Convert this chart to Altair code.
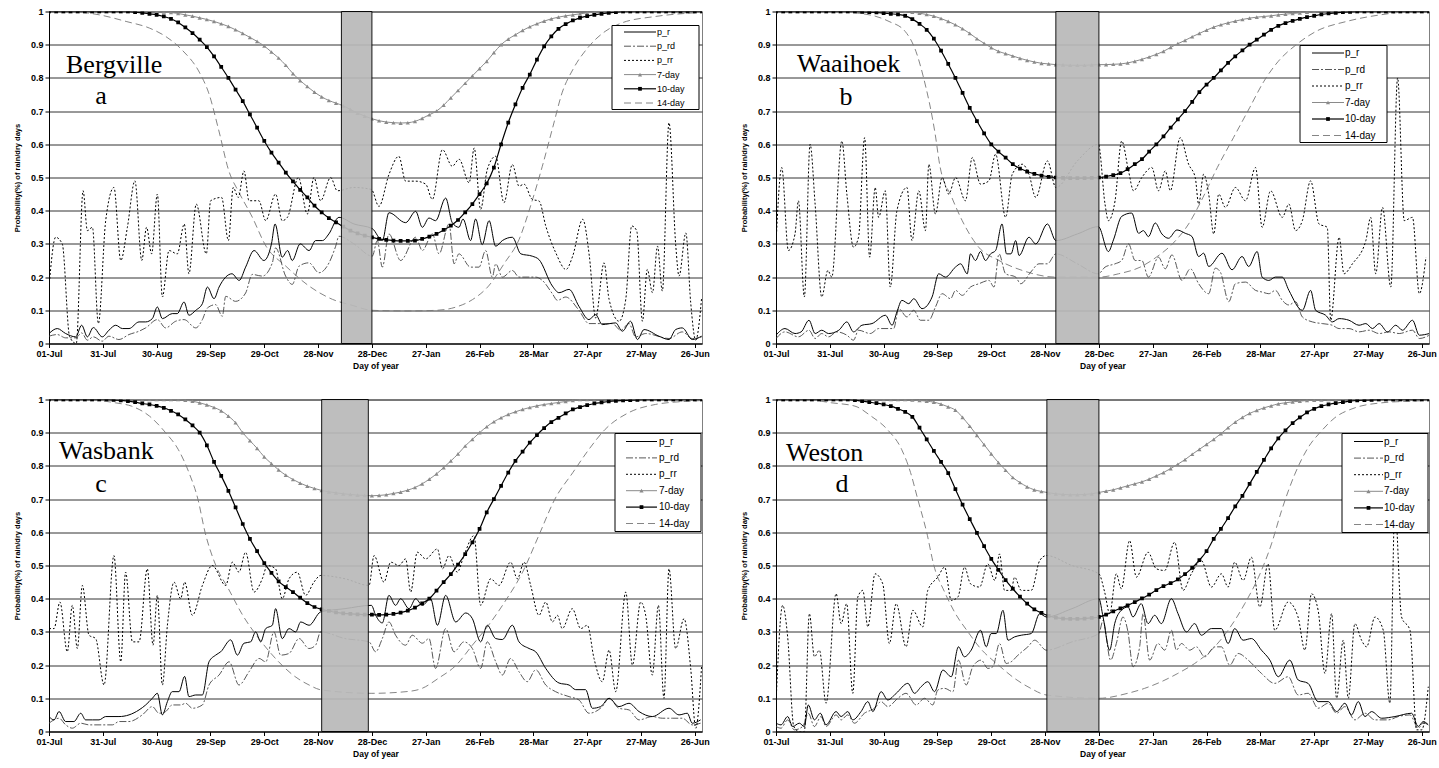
import altair as alt
import pandas as pd

# ---------------------------------------------------------------- axes
TICK_LABELS = ["01-Jul", "31-Jul", "30-Aug", "29-Sep", "29-Oct", "28-Nov", "28-Dec",
               "27-Jan", "26-Feb", "28-Mar", "27-Apr", "27-May", "26-Jun"]
TICK_DAYS = [0, 30, 60, 90, 120, 150, 180, 210, 240, 270, 300, 330, 360]
Y_TICKS = [0, 0.1, 0.2, 0.3, 0.4, 0.5, 0.6, 0.7, 0.8, 0.9, 1.0]
SMOOTH_STEP = 4          # day spacing of the 7-day / 10-day curves
X_MAX = 364
PLOT_W, PLOT_H = 653, 332

# ---------------------------------------------------------------- Bergville
bergville_pr = [(0,0.03),(4.6,0.045),(9.3,0.03),(14.9,0.02),(18.2,0.055),(21.4,0.02),(24.7,0.048),(29.7,0.02),(33.4,0.04),(37.2,0.055),(40.9,0.045),(44.6,0.045),(50.2,0.065),(53.9,0.065),(57.6,0.075),(60.4,0.11),(63.2,0.075),(68.7,0.09),(71.5,0.09),(75.3,0.125),(78,0.085),(81.8,0.1),(85.5,0.12),(88.3,0.17),(92,0.135),(94.8,0.17),(102,0.21),(106,0.19),(109.6,0.23),(114.3,0.28),(119.8,0.25),(124,0.3),(126,0.36),(130,0.26),(133,0.28),(135.6,0.25),(140,0.3),(145,0.28),(148.6,0.31),(152.4,0.31),(156,0.33),(161.6,0.38),(170,0.36),(180.2,0.346),(185.8,0.31),(189.5,0.394),(198.8,0.364),(204.4,0.398),(208.1,0.35),(211.8,0.378),(215.5,0.37),(221.1,0.438),(224.8,0.364),(228.5,0.35),(230.8,0.375),(235,0.31),(237.8,0.375),(241.5,0.298),(245.3,0.37),(249,0.293),(252.7,0.31),(258.3,0.32),(263,0.27),(269.4,0.263),(273.1,0.253),(280.6,0.173),(284.3,0.153),(289.9,0.163),(295.4,0.112),(301,0.072),(304.7,0.087),(308.4,0.057),(315.9,0.062),(319.6,0.037),(324.2,0.067),(328,0.012),(331.7,0.042),(340,0.022),(345.6,0.012),(349.3,0.042),(353,0.047),(358.6,0.012),(363.8,0.022)]
bergville_prd = [(0,0.022),(4.6,0.027),(9.3,0.017),(14.9,0.017),(18.2,0.032),(21.4,0.01),(24.7,0.02),(29.7,0.007),(33.4,0.022),(39,0.012),(44.6,0.027),(50.2,0.037),(53.9,0.047),(60.4,0.072),(65,0.047),(70.6,0.067),(75.3,0.072),(81.8,0.047),(85.5,0.072),(88.3,0.107),(92.9,0.117),(96.6,0.082),(98.5,0.142),(104,0.127),(109.6,0.152),(113.3,0.208),(118.9,0.203),(124.5,0.243),(126.3,0.288),(131.9,0.203),(135.6,0.178),(139.4,0.233),(144.9,0.243),(150.5,0.213),(156.1,0.243),(159.8,0.293),(161.6,0.323),(170,0.3),(180.2,0.263),(183,0.31),(185.8,0.23),(189.5,0.33),(196,0.25),(204.4,0.32),(208.1,0.28),(213.7,0.33),(217.4,0.27),(223,0.36),(225.8,0.24),(228.5,0.27),(235,0.23),(239.7,0.23),(243.4,0.28),(247.1,0.2),(249,0.24),(252.7,0.2),(258.3,0.22),(262,0.2),(271.3,0.2),(275,0.19),(280.6,0.15),(283.4,0.13),(288,0.14),(295.4,0.1),(301,0.06),(306.6,0.06),(314,0.06),(318.7,0.04),(323.3,0.06),(327,0.02),(332.6,0.03),(345.6,0.015),(353,0.035),(358.6,0.015),(363.8,0.02)]
bergville_prr = [(0,0.17),(3.7,0.32),(7.4,0.3),(11.5,0.02),(15.2,0.0),(19,0.46),(21.4,0.34),(24.2,0.35),(27.5,0.06),(31.6,0.37),(36.2,0.47),(40,0.25),(43.7,0.35),(47.9,0.49),(51.7,0.25),(54.4,0.35),(57.2,0.27),(60.4,0.45),(63.2,0.14),(66.9,0.28),(71.5,0.27),(75.4,0.36),(78,0.21),(82.1,0.42),(87.7,0.27),(90.1,0.43),(96.2,0.44),(100,0.31),(102.7,0.47),(105.5,0.44),(108.7,0.52),(111.5,0.43),(117,0.43),(120.8,0.37),(126.3,0.45),(130,0.37),(132.9,0.38),(139,0.5),(144,0.39),(147.7,0.5),(151.4,0.43),(157,0.5),(160.7,0.46),(170,0.47),(179.7,0.464),(183.9,0.413),(189.5,0.509),(195,0.564),(198.8,0.489),(204.4,0.489),(210,0.48),(213.7,0.434),(219.3,0.584),(224.8,0.534),(228.6,0.555),(234.2,0.484),(237,0.589),(240.6,0.404),(244.3,0.524),(249,0.564),(253.6,0.424),(258.3,0.539),(262,0.474),(264.8,0.48),(269.4,0.434),(273.2,0.429),(276.9,0.354),(282.5,0.273),(288.2,0.223),(291.9,0.263),(297.5,0.374),(301.2,0.263),(304.7,0.077),(309.4,0.243),(312.2,0.133),(317.8,0.067),(321.5,0.133),(324.8,0.354),(327.6,0.34),(330.8,0.067),(333.5,0.223),(336.4,0.153),(339.2,0.293),(341.9,0.158),(345.6,0.665),(349.4,0.293),(351.2,0.203),(355,0.333),(357.7,0.123),(360.5,0.01),(363.8,0.138)]
bergville_d7 = [1,1,1,1,1,1,1,1,1,1,1,1,1,1,1,1,
    0.999,0.997,0.994,0.99,0.986,0.981,0.976,0.97,0.963,0.955,0.945,0.934,0.922,0.91,0.896,0.878,0.86,0.838,0.813,0.792,0.774,0.757,0.743,0.732,0.724,0.716,0.705,0.694,0.685,0.677,
    0.671,0.667,0.665,0.664,0.665,0.669,0.678,0.689,0.7,0.718,0.74,0.762,0.784,0.806,0.828,0.85,0.876,0.9,0.917,0.93,0.943,0.954,0.963,0.971,0.978,0.983,0.987,0.99,0.993,0.996,0.998,
    1,1,1,1,1,1,1,1,1,1,1,1,1,1,1]
bergville_d10 = [1,1,1,1,1,1,1,1,1,1,1,1,
    0.998,0.996,0.993,0.99,0.985,0.978,0.967,0.952,0.935,0.915,0.893,0.865,0.833,0.8,0.765,0.73,0.69,0.65,0.61,0.575,0.545,0.515,0.488,0.463,0.44,0.415,0.395,0.378,0.365,0.352,0.34,0.332,0.325,0.32,
    0.315,0.312,0.31,0.309,0.309,0.31,0.315,0.322,0.33,0.342,0.355,0.372,0.395,0.42,0.45,0.482,0.53,0.6,0.665,0.72,0.77,0.81,0.855,0.895,0.925,0.948,0.962,0.973,0.981,0.986,0.99,0.993,0.996,0.998,
    1,1,1,1,1,1,1,1,1,1,1,1]
bergville_d14 = [(0,1),(10,1),(28,0.99),(43,0.97),(56,0.95),(65,0.925),(74,0.885),(84,0.815),(89,0.755),(95,0.634),(100,0.524),(106,0.454),(113,0.384),(121,0.293),(132,0.233),(145,0.173),(158,0.133),(169,0.115),(180,0.1),(200,0.098),(216,0.1),(227,0.11),(236,0.132),(245,0.173),(254,0.243),(262,0.313),(269,0.424),(275,0.534),(281,0.655),(286,0.755),(292,0.825),(301,0.895),(310,0.94),(319,0.965),(338,0.985),(357,0.995),(364,0.997)]
bergville_dry = (163, 180)

# ---------------------------------------------------------------- Waaihoek
waaihoek_pr = [(0,0.025),(5,0.045),(10.6,0.03),(14,0.035),(18.4,0.07),(21.8,0.03),(25.5,0.04),(29.3,0.03),(35,0.04),(39.5,0.065),(43.2,0.035),(47.9,0.055),(53.5,0.06),(61,0.085),(64.7,0.055),(67.4,0.095),(70.2,0.13),(74,0.12),(76.8,0.135),(81.4,0.105),(87,0.14),(90.7,0.21),(94.5,0.2),(100,0.23),(102.9,0.24),(106.6,0.21),(108.4,0.27),(111.2,0.25),(114,0.277),(116.8,0.25),(119.6,0.27),(122.4,0.28),(126,0.36),(128.5,0.27),(131,0.27),(133.6,0.31),(135.5,0.265),(141,0.32),(144.8,0.3),(151.3,0.36),(156,0.31),(168,0.33),(179.7,0.352),(185.3,0.277),(188.1,0.312),(192.7,0.383),(198.3,0.393),(202.1,0.332),(204.8,0.34),(207.6,0.322),(211.4,0.363),(215.1,0.33),(218.8,0.317),(223.5,0.342),(228.1,0.332),(231.9,0.322),(235.6,0.262),(238.4,0.272),(241.2,0.232),(248.6,0.272),(254.2,0.222),(259.8,0.262),(263.5,0.232),(268.2,0.277),(271,0.2),(274.7,0.19),(278.4,0.2),(282.2,0.2),(285.9,0.16),(293.4,0.1),(298,0.16),(300.8,0.1),(306.4,0.085),(310.1,0.065),(313.9,0.075),(319.4,0.07),(325,0.055),(328.8,0.06),(332.5,0.045),(336.2,0.06),(340.9,0.035),(345.5,0.055),(349.2,0.04),(354.8,0.07),(358.6,0.025),(364.2,0.03)]
waaihoek_prd = [(0,0.015),(5,0.035),(12.5,0.02),(18.4,0.04),(21.8,0.015),(25.5,0.03),(29.3,0.02),(33.9,0.035),(39.5,0.025),(43.2,0.01),(46,0.04),(52.5,0.03),(57.2,0.045),(62.8,0.045),(65.6,0.045),(68.4,0.105),(73,0.08),(76.8,0.1),(80.5,0.07),(85.2,0.07),(88.9,0.11),(92.6,0.15),(97.3,0.135),(100.1,0.16),(103.8,0.145),(108.4,0.17),(113.1,0.18),(118.7,0.19),(121.5,0.17),(124.3,0.27),(128,0.21),(133.6,0.2),(136.4,0.18),(142,0.215),(146.6,0.24),(151.3,0.24),(156,0.27),(168,0.24),(179.7,0.21),(183.4,0.23),(189,0.24),(192.7,0.25),(196.5,0.3),(200.2,0.25),(203.9,0.25),(207.6,0.2),(213.2,0.26),(217,0.225),(220.7,0.267),(226.3,0.19),(231,0.225),(235.6,0.18),(241.2,0.15),(244.9,0.227),(247.7,0.215),(252.4,0.126),(256.1,0.18),(261.7,0.185),(267.3,0.16),(271,0.155),(274.7,0.15),(278.4,0.16),(282.2,0.13),(285.9,0.116),(289.6,0.126),(293.4,0.08),(299,0.065),(304.5,0.06),(310.1,0.055),(313.9,0.045),(319.4,0.045),(325,0.035),(330.6,0.04),(336.2,0.03),(341.8,0.035),(347.4,0.03),(354.8,0.04),(358.6,0.015),(364.2,0.025)]
waaihoek_prr = [(0,0.3),(3.2,0.53),(6.9,0.28),(10.6,0.33),(12.5,0.43),(15.8,0.14),(19,0.6),(21.8,0.42),(25.5,0.14),(28.9,0.22),(31.1,0.2),(36.7,0.61),(39.5,0.45),(43.2,0.29),(46,0.32),(49.4,0.62),(52.2,0.26),(55.3,0.47),(57.2,0.38),(60.9,0.46),(63.7,0.17),(67.4,0.4),(73,0.47),(75.8,0.31),(79.6,0.46),(83.3,0.34),(85.2,0.54),(88.9,0.39),(92.6,0.5),(96.3,0.45),(100.1,0.5),(105.6,0.43),(109.4,0.56),(114,0.48),(118.7,0.49),(122.4,0.57),(128,0.38),(131.7,0.51),(137.3,0.54),(141,0.51),(144.8,0.44),(151.3,0.55),(156,0.47),(168,0.55),(179.7,0.6),(183.4,0.42),(185.3,0.37),(189,0.43),(192.7,0.61),(196.5,0.52),(199.3,0.46),(203.9,0.5),(209.5,0.53),(213.2,0.46),(217,0.52),(219.8,0.46),(225.3,0.62),(230,0.54),(233.7,0.5),(235.6,0.42),(238.4,0.51),(241.2,0.45),(244,0.33),(246.8,0.45),(250.5,0.41),(256.1,0.47),(261.7,0.43),(267.3,0.53),(271,0.35),(275.7,0.46),(282.2,0.38),(285.9,0.42),(289.6,0.34),(293.4,0.37),(298,0.49),(302.7,0.36),(307.3,0.35),(309.2,0.07),(313.9,0.32),(316.6,0.21),(321.3,0.24),(328.8,0.31),(331.5,0.38),(334.3,0.21),(338.1,0.41),(342.7,0.17),(346.5,0.8),(350.2,0.37),(354.8,0.38),(358.6,0.15),(362.3,0.26)]
waaihoek_d7 = [1,1,1,1,1,1,1,1,1,1,1,1,1,1,1,1,1,1,1,
    0.998,0.995,0.991,0.986,0.979,0.97,0.96,0.948,0.934,0.918,0.904,0.891,0.88,0.873,0.866,0.859,0.853,0.848,0.844,0.842,0.84,0.839,0.838,0.838,0.838,0.839,0.84,
    0.84,0.841,0.842,0.845,0.85,0.856,0.863,0.871,0.88,0.892,0.903,0.913,0.924,0.934,0.944,0.953,0.96,0.966,0.971,0.976,0.98,0.983,0.985,0.987,0.99,0.992,0.994,0.996,0.998,
    1,1,1,1,1,1,1,1,1,1,1,1,1,1,1,1,1]
waaihoek_d10 = [1,1,1,1,1,1,1,1,1,1,1,1,
    0.999,0.998,0.997,0.995,0.993,0.991,0.987,0.977,0.963,0.945,0.918,0.882,0.842,0.8,0.755,0.71,0.67,0.633,0.6,0.578,0.56,0.54,0.527,0.518,0.511,0.506,0.502,0.5,0.499,0.498,0.498,0.498,0.499,0.5,
    0.503,0.507,0.513,0.525,0.54,0.555,0.578,0.6,0.624,0.65,0.675,0.7,0.728,0.757,0.78,0.8,0.823,0.845,0.865,0.883,0.9,0.915,0.93,0.945,0.957,0.965,0.972,0.978,0.983,0.987,0.991,0.994,0.996,0.998,
    0.999,1,1,1,1,1,1,1,1,1,1,1]
waaihoek_d14 = [(0,1),(31,1),(52,0.99),(63,0.97),(72,0.94),(78,0.88),(82,0.806),(88.6,0.635),(91.4,0.534),(98,0.44),(103.8,0.37),(113,0.29),(124.3,0.25),(137.3,0.22),(156,0.2),(180,0.2),(191,0.21),(203,0.23),(212,0.26),(221,0.3),(230,0.36),(238,0.44),(246,0.53),(255,0.62),(264,0.71),(272,0.79),(280,0.85),(290,0.9),(301,0.94),(318,0.97),(337,0.99),(355,1),(364,1)]
waaihoek_dry = (156, 180)

# ---------------------------------------------------------------- Wasbank
wasbank_pr = [(0,0.045),(2.8,0.035),(5.6,0.06),(9.3,0.03),(13.9,0.03),(17.7,0.055),(20.4,0.035),(24.2,0.035),(27.9,0.035),(31.6,0.045),(39,0.045),(44.6,0.05),(50.2,0.065),(53.9,0.08),(57.6,0.1),(60.4,0.115),(63.2,0.05),(66,0.09),(68.7,0.12),(72.5,0.12),(75.6,0.166),(78,0.105),(81.8,0.11),(85.5,0.11),(89.2,0.21),(92.9,0.23),(95.7,0.24),(101.3,0.276),(105,0.23),(108.7,0.266),(112.4,0.27),(115.2,0.3),(118,0.27),(120.8,0.31),(124.5,0.32),(126.3,0.37),(130,0.28),(133.8,0.31),(137.5,0.3),(140.3,0.33),(145,0.32),(151.4,0.36),(165,0.37),(179.7,0.38),(182.1,0.35),(185.8,0.327),(189.5,0.41),(193.2,0.38),(196,0.4),(200.7,0.37),(204.4,0.4),(208.1,0.38),(212.7,0.4),(216.5,0.32),(221.1,0.41),(226.7,0.33),(232.3,0.357),(236,0.34),(240.6,0.27),(244.3,0.32),(249,0.28),(252.7,0.277),(258.3,0.32),(262,0.27),(267.6,0.25),(271.3,0.24),(276.9,0.19),(284.3,0.146),(289.9,0.14),(293.6,0.126),(299.1,0.126),(302.9,0.07),(307.5,0.075),(312.2,0.1),(317.7,0.075),(323.3,0.085),(328.9,0.06),(336.3,0.045),(345.6,0.07),(351.2,0.05),(355.8,0.055),(358.6,0.025),(363.2,0.035)]
wasbank_prd = [(0,0.025),(5.6,0.04),(9.3,0.02),(13,0.01),(17.7,0.025),(22.3,0.02),(27.9,0.02),(35.3,0.02),(39,0.03),(44.6,0.03),(52,0.05),(57.6,0.075),(61.3,0.055),(65,0.06),(68.7,0.08),(73.4,0.08),(76.2,0.085),(79.9,0.07),(85.5,0.08),(89.2,0.14),(94.8,0.17),(100.4,0.21),(105.9,0.14),(111.5,0.18),(117.1,0.22),(120.8,0.21),(125.4,0.3),(129.1,0.23),(133.8,0.235),(139.4,0.28),(144.9,0.25),(148.6,0.26),(151.4,0.3),(165,0.28),(178.4,0.27),(182.1,0.24),(185.8,0.28),(189.5,0.33),(193.2,0.29),(198.8,0.26),(202.5,0.29),(208.1,0.266),(211.8,0.28),(215.5,0.19),(221.1,0.31),(225.8,0.24),(231.3,0.27),(236,0.25),(240.6,0.19),(244.3,0.27),(249,0.21),(252.7,0.17),(257.3,0.22),(262,0.18),(266.6,0.15),(271.3,0.186),(276.9,0.14),(282.4,0.12),(289.9,0.105),(295.4,0.095),(301,0.055),(308.4,0.075),(312.2,0.1),(317.7,0.07),(323.3,0.065),(328.9,0.035),(336.3,0.045),(341.9,0.04),(347.5,0.04),(353,0.04),(358.6,0.02),(363.2,0.025)]
wasbank_prr = [(0,0.31),(2.8,0.31),(6.1,0.39),(10.2,0.24),(13,0.38),(15.8,0.25),(18.6,0.44),(22.3,0.29),(26,0.28),(30.7,0.14),(36.2,0.53),(40,0.21),(42.7,0.48),(46.5,0.27),(50.2,0.27),(54.8,0.49),(58,0.26),(60.4,0.41),(63.2,0.14),(66,0.32),(69.7,0.45),(73.4,0.4),(75.6,0.45),(79.9,0.35),(85.5,0.44),(91,0.5),(98.5,0.44),(102.2,0.51),(105.9,0.48),(109.6,0.54),(114.3,0.42),(118.9,0.46),(121.7,0.5),(126.3,0.49),(130,0.4),(133.8,0.46),(138.4,0.48),(143,0.41),(147.7,0.45),(151.4,0.47),(165,0.46),(178.4,0.44),(181.2,0.53),(186.7,0.45),(190.5,0.51),(195.1,0.5),(198.8,0.52),(201.6,0.42),(205.3,0.54),(210,0.52),(216.5,0.55),(219.3,0.49),(223,0.53),(227.6,0.48),(231.3,0.53),(236.9,0.59),(240.6,0.38),(246.2,0.46),(250.8,0.44),(257.3,0.51),(261.1,0.46),(264.8,0.51),(268.5,0.44),(273.1,0.35),(276.9,0.39),(280.6,0.33),(283.4,0.35),(286.1,0.31),(291.7,0.37),(296.4,0.31),(300.1,0.32),(303.8,0.22),(308.4,0.15),(312.2,0.245),(315.9,0.12),(321.5,0.42),(325.2,0.2),(329.8,0.39),(332.6,0.35),(336.3,0.17),(339.7,0.38),(342.8,0.1),(345.6,0.49),(349.3,0.25),(354,0.34),(357.7,0.19),(360.5,0.01),(363.8,0.2)]
wasbank_d7 = [1,1,1,1,1,1,1,1,1,1,1,1,1,1,1,1,1,1,1,
    0.998,0.995,0.99,0.984,0.976,0.966,0.95,0.93,0.9,0.876,0.853,0.827,0.807,0.788,0.772,0.759,0.748,0.739,0.732,0.726,0.722,0.719,0.716,0.714,0.712,0.711,0.71,
    0.711,0.713,0.717,0.721,0.727,0.735,0.746,0.76,0.776,0.795,0.815,0.836,0.86,0.88,0.9,0.918,0.933,0.945,0.955,0.963,0.97,0.976,0.981,0.985,0.988,0.991,0.994,0.997,
    1,1,1,1,1,1,1,1,1,1,1,1,1,1,1,1,1,1]
wasbank_d10 = [1,1,1,1,1,1,1,1,1,
    0.999,0.997,0.995,0.992,0.988,0.985,0.981,0.975,0.966,0.955,0.94,0.922,0.9,0.862,0.812,0.77,0.725,0.675,0.625,0.58,0.543,0.507,0.478,0.452,0.435,0.42,0.403,0.387,0.375,0.368,0.363,0.359,0.356,0.354,0.353,0.352,0.352,
    0.351,0.352,0.354,0.358,0.364,0.373,0.386,0.4,0.424,0.45,0.474,0.503,0.534,0.57,0.61,0.66,0.7,0.74,0.78,0.815,0.843,0.87,0.893,0.914,0.932,0.945,0.958,0.97,0.977,0.983,0.988,0.991,0.994,0.996,0.997,0.998,0.999,
    1,1,1,1,1,1,1,1,1]
wasbank_d14 = [(0,1),(19,1),(37,0.99),(46,0.98),(56,0.95),(65,0.9),(72,0.85),(78,0.78),(83,0.7),(87,0.6),(93,0.5),(100,0.43),(108,0.35),(117,0.28),(128,0.21),(136,0.17),(145,0.14),(152,0.125),(180,0.115),(199,0.12),(208,0.13),(217,0.16),(227,0.2),(236,0.26),(245,0.32),(254,0.39),(264,0.48),(273,0.59),(282,0.7),(292,0.78),(301,0.85),(310,0.91),(323,0.96),(338,0.985),(357,0.995),(364,0.997)]
wasbank_dry = (152, 178)

# ---------------------------------------------------------------- Weston
weston_pr = [(0,0.025),(2.8,0.02),(6.5,0.045),(9.3,0.015),(13,0.025),(15.8,0.015),(18,0.08),(21.4,0.035),(24.7,0.055),(27.9,0.02),(33.5,0.06),(36.3,0.045),(40,0.06),(42.8,0.035),(47.4,0.06),(51.2,0.09),(54,0.06),(58.6,0.12),(62.3,0.095),(67,0.115),(73.5,0.145),(77.2,0.115),(80.9,0.135),(84.6,0.15),(88.4,0.12),(93,0.185),(97.7,0.165),(101.7,0.255),(105,0.225),(108.8,0.245),(114,0.305),(117.2,0.255),(119.9,0.295),(122.8,0.295),(126.5,0.365),(129.3,0.275),(133,0.285),(136.7,0.29),(142.3,0.295),(147,0.355),(150.7,0.345),(165,0.37),(180,0.4),(182.3,0.345),(186,0.245),(188.8,0.325),(192.5,0.365),(196.2,0.375),(199,0.345),(203.6,0.385),(207.4,0.325),(211.1,0.35),(214.8,0.325),(220.4,0.4),(224.1,0.355),(228.8,0.3),(233.4,0.325),(237.1,0.29),(242.7,0.31),(248.3,0.31),(252,0.265),(255.7,0.31),(260.4,0.275),(265,0.28),(270.6,0.245),(275.3,0.215),(280,0.165),(286.4,0.215),(291.1,0.155),(296.6,0.145),(302.2,0.09),(307.8,0.09),(312.5,0.06),(317.1,0.085),(320.8,0.05),(324.6,0.09),(328.3,0.045),(332,0.06),(337.6,0.04),(345,0.045),(354.3,0.055),(358,0.015),(360.8,0.03),(363.6,0.02)]
weston_prd = [(0,0.015),(2.8,0.01),(6.5,0.035),(10.2,0.005),(14.9,0.015),(18,0.055),(21.4,0.015),(25.1,0.045),(27.9,0.015),(33.5,0.05),(36.3,0.035),(40,0.05),(43.7,0.025),(49.3,0.055),(54.9,0.07),(58.6,0.09),(62.3,0.075),(67.9,0.1),(72.5,0.115),(78.1,0.08),(82.8,0.1),(87.4,0.08),(90.2,0.125),(93.9,0.13),(98.6,0.12),(101.7,0.215),(106,0.14),(109.7,0.195),(114.4,0.215),(118.1,0.19),(120.9,0.195),(124.6,0.265),(128.3,0.205),(131.1,0.21),(134.9,0.23),(140.4,0.255),(144.2,0.275),(150.7,0.245),(165,0.27),(180,0.295),(182.3,0.335),(186.5,0.215),(189.7,0.265),(193.4,0.345),(196.2,0.3),(199,0.195),(202.7,0.255),(204.6,0.355),(208.3,0.215),(212.9,0.265),(216.7,0.245),(220.4,0.305),(223.2,0.245),(226,0.265),(230.6,0.245),(234.3,0.255),(239,0.225),(244.6,0.255),(248.3,0.255),(252.9,0.2),(257.6,0.235),(263.2,0.215),(270.6,0.175),(278,0.145),(285.5,0.165),(291.1,0.11),(296.6,0.115),(302.2,0.07),(307.8,0.085),(312.5,0.055),(317.1,0.075),(322.7,0.035),(328.3,0.055),(333.9,0.035),(341.3,0.035),(346.9,0.045),(353.4,0.05),(358,0.01),(360.8,0.025),(364,0.02)]
weston_prr = [(0,0.085),(3.7,0.38),(6.5,0.285),(9.9,0.015),(13,0.0),(15.8,0.0),(18.6,0.355),(21.4,0.225),(24.2,0.245),(27.9,0.085),(33.5,0.415),(36.3,0.325),(39.4,0.385),(42.8,0.115),(45.6,0.405),(48.4,0.425),(51.2,0.315),(55.2,0.475),(59.5,0.445),(63.2,0.265),(67,0.385),(72.5,0.255),(76.3,0.365),(81.8,0.315),(84.6,0.425),(90.2,0.465),(94,0.495),(97.7,0.395),(101.4,0.405),(105.1,0.495),(108.4,0.445),(113.5,0.435),(118,0.505),(122,0.455),(124.6,0.535),(127.4,0.425),(131.1,0.425),(133,0.465),(136.7,0.425),(142.3,0.425),(147,0.515),(150.7,0.53),(165,0.5),(180,0.475),(183.2,0.42),(186,0.355),(189.7,0.475),(192.5,0.43),(197.1,0.575),(200.9,0.465),(207.4,0.54),(212,0.49),(216.7,0.485),(222.2,0.57),(226.9,0.425),(231.5,0.475),(237.1,0.515),(242.7,0.435),(248.3,0.475),(252,0.435),(255.7,0.51),(260.4,0.455),(265,0.525),(269.7,0.375),(274.3,0.505),(278,0.305),(285.5,0.39),(291,0.345),(294.8,0.245),(298.5,0.415),(302.2,0.365),(306,0.175),(309.7,0.355),(312.5,0.1),(316.2,0.275),(319,0.1),(322.7,0.325),(326.4,0.275),(329.2,0.255),(333.9,0.345),(338.5,0.305),(342.2,0.085),(345,0.68),(348.7,0.345),(353.4,0.305),(357.1,0.005),(360,0.005),(363.6,0.135)]
weston_d7 = [1,1,1,1,1,1,1,1,1,1,1,1,1,1,1,1,1,1,1,
    0.999,0.997,0.995,0.992,0.986,0.978,0.968,0.946,0.92,0.892,0.864,0.836,0.81,0.787,0.765,0.75,0.737,0.728,0.723,0.719,0.716,0.714,0.713,0.713,0.714,0.716,0.72,
    0.724,0.728,0.734,0.74,0.746,0.752,0.76,0.77,0.78,0.792,0.805,0.819,0.835,0.85,0.865,0.88,0.897,0.915,0.932,0.946,0.958,0.967,0.975,0.981,0.987,0.99,0.993,0.995,0.997,0.998,0.999,
    1,1,1,1,1,1,1,1,1,1,1,1,1,1,1]
weston_d10 = [1,1,1,1,1,1,1,1,1,1,1,
    0.998,0.995,0.992,0.989,0.985,0.98,0.972,0.963,0.948,0.915,0.88,0.845,0.812,0.778,0.73,0.683,0.64,0.598,0.558,0.52,0.487,0.456,0.43,0.406,0.385,0.368,0.357,0.348,0.343,0.34,0.339,0.339,0.34,0.342,0.345,
    0.352,0.362,0.371,0.38,0.39,0.401,0.412,0.426,0.438,0.447,0.458,0.474,0.493,0.516,0.543,0.58,0.61,0.643,0.678,0.71,0.746,0.782,0.818,0.853,0.883,0.907,0.929,0.946,0.961,0.972,0.98,0.985,0.989,0.992,0.995,0.997,0.998,0.999,
    1,1,1,1,1,1,1,1]
weston_d14 = [(0,1),(16,1),(31,0.99),(44,0.98),(53,0.95),(62,0.91),(70,0.85),(75,0.78),(79,0.7),(84,0.6),(88,0.5),(94,0.42),(99.5,0.36),(107,0.3),(114,0.25),(124,0.2),(133,0.16),(142,0.13),(150.7,0.11),(180,0.1),(196,0.115),(205.5,0.13),(214.8,0.15),(224,0.175),(233.4,0.205),(242.7,0.245),(252,0.305),(261.3,0.385),(270.6,0.485),(276.2,0.565),(281.8,0.665),(289.2,0.775),(296.6,0.855),(304,0.905),(311.5,0.945),(322.7,0.975),(337.6,0.99),(354,0.995),(364,0.997)]
weston_dry = (151, 180)

SERIES = ["p_r", "p_rd", "p_rr", "7-day", "10-day", "14-day"]

# line styling for each series
LINE_STYLE = {
    "14-day": dict(color="#777777", strokeWidth=0.9, strokeDash=[7, 4]),
    "p_rd": dict(color="#444444", strokeWidth=0.9, strokeDash=[7, 2, 2, 2]),
    "p_rr": dict(color="#000000", strokeWidth=1.0, strokeDash=[2, 2]),
    "p_r": dict(color="#000000", strokeWidth=1.0),
    "7-day": dict(color="#8a8a8a", strokeWidth=1.0),
    "10-day": dict(color="#000000", strokeWidth=1.2),
}
MARKERS = {
    "7-day": dict(shape="triangle-up", color="#8a8a8a", size=18),
    "10-day": dict(shape="square", color="#000000", size=14),
}
DRAW_ORDER = ["14-day", "p_rd", "p_rr", "p_r", "7-day", "10-day"]

LABEL_FONT = "Liberation Sans"
SERIF = "Liberation Serif"

x_label_expr = "[" + ",".join("'%s'" % t for t in TICK_LABELS) + "][round(datum.value / 30)]"
x_axis = alt.Axis(values=TICK_DAYS, labelExpr=x_label_expr, title="Day of year",
                  labelFont=LABEL_FONT, labelFontSize=9, labelFontWeight="bold", labelColor="black",
                  titleFont=LABEL_FONT, titleFontSize=8.5, titleFontWeight="bold", titleColor="black",
                  tickColor="black", tickSize=4, domainColor="black", grid=False,
                  labelPadding=2, titlePadding=3, labelFlush=False)
y_axis = alt.Axis(values=Y_TICKS, format=".1~f", title="Probability(%) of rain/dry days",
                  labelFont=LABEL_FONT, labelFontSize=9, labelFontWeight="bold", labelColor="black",
                  titleFont=LABEL_FONT, titleFontSize=7.5, titleFontWeight="bold", titleColor="black",
                  tickColor="black", tickSize=4, domainColor="black",
                  grid=True, gridColor="#333333", gridWidth=1,
                  labelPadding=2, titlePadding=9)
X_SCALE = alt.Scale(domain=[0, X_MAX], nice=False, zero=False)
Y_SCALE = alt.Scale(domain=[0, 1], nice=False)


def series_frame(pr, prd, prr, d7, d10, d14):
    rows = []
    for key, pts in (("p_r", pr), ("p_rd", prd), ("p_rr", prr), ("14-day", d14)):
        rows += [{"series": key, "day": d, "value": v} for d, v in pts]
    for key, vals in (("7-day", d7), ("10-day", d10)):
        rows += [{"series": key, "day": i * SMOOTH_STEP, "value": v} for i, v in enumerate(vals)]
    return pd.DataFrame(rows)


ONE = pd.DataFrame({"k": [0]})


def panel(df, dry, station, letter, lay):
    x = alt.X("day:Q", scale=X_SCALE, axis=x_axis)
    y = alt.Y("value:Q", scale=Y_SCALE, axis=y_axis)
    base = alt.Chart(df)
    layers = []
    for key in DRAW_ORDER:
        sub = base.transform_filter(alt.datum.series == key)
        layers.append(sub.mark_line(interpolate="monotone", clip=True, **LINE_STYLE[key]).encode(x=x, y=y))
        if key in MARKERS:
            layers.append(sub.mark_point(filled=True, clip=True, opacity=1, **MARKERS[key]).encode(x=x, y=y))

    # dry-season band
    band = pd.DataFrame({"start": [dry[0]], "end": [dry[1]]})
    layers.append(alt.Chart(band).mark_rect(fill="#b9b9b9", opacity=0.92, stroke="black", strokeWidth=1).encode(
        x=alt.X("start:Q", scale=X_SCALE, axis=x_axis), x2="end:Q",
        y=alt.value(0), y2=alt.value(PLOT_H)))

    # station name and panel letter
    nx, ny = lay["name"]
    lx, ly = lay["letter"]
    layers.append(alt.Chart(ONE).mark_text(text=station, font=SERIF, fontSize=26, align="left",
                                           baseline="alphabetic", color="black").encode(
        x=alt.value(nx), y=alt.value(ny)))
    layers.append(alt.Chart(ONE).mark_text(text=letter, font=SERIF, fontSize=26, align="center",
                                           baseline="alphabetic", color="black").encode(
        x=alt.value(lx), y=alt.value(ly)))

    # legend box
    bx0, bx1, by0, by1 = lay["box"]
    layers.append(alt.Chart(ONE).mark_rect(fill="white", stroke="black", strokeWidth=1).encode(
        x=alt.value(bx0), x2=alt.value(bx1), y=alt.value(by0), y2=alt.value(by1)))
    r0, dr = lay["rows"]
    sx0, sx1 = lay["line"]
    for i, key in enumerate(SERIES):
        ry = r0 + i * dr
        layers.append(alt.Chart(ONE).mark_rule(**LINE_STYLE[key]).encode(
            x=alt.value(sx0), x2=alt.value(sx1), y=alt.value(ry)))
        if key in MARKERS:
            layers.append(alt.Chart(ONE).mark_point(filled=True, opacity=1, **MARKERS[key]).encode(
                x=alt.value((sx0 + sx1) / 2), y=alt.value(ry)))
        layers.append(alt.Chart(ONE).mark_text(text=key, font=LABEL_FONT, fontSize=lay["font"],
                                               align="left", baseline="middle", color="black").encode(
            x=alt.value(lay["text"]), y=alt.value(ry)))

    return alt.layer(*layers).properties(width=PLOT_W, height=PLOT_H)


LAYOUT = {
    "a": dict(name=(17, 61), letter=(52, 92), box=(563, 650, 14, 98), rows=(20.5, 14.2),
              line=(575, 607), text=608, font=9),
    "b": dict(name=(21, 60), letter=(70, 93), box=(524, 611, 34, 131), rows=(41.5, 16.5),
              line=(536, 568), text=569, font=10),
    "c": dict(name=(10, 59), letter=(52, 92), box=(566, 652, 34, 132), rows=(42, 16.4),
              line=(577, 608), text=610, font=10),
    "d": dict(name=(10, 61), letter=(66, 92), box=(566, 652, 34, 133), rows=(42, 16.6),
              line=(578, 607), text=608, font=10),
}

pa = panel(series_frame(bergville_pr, bergville_prd, bergville_prr, bergville_d7, bergville_d10, bergville_d14),
           bergville_dry, "Bergville", "a", LAYOUT["a"])
pb = panel(series_frame(waaihoek_pr, waaihoek_prd, waaihoek_prr, waaihoek_d7, waaihoek_d10, waaihoek_d14),
           waaihoek_dry, "Waaihoek", "b", LAYOUT["b"])
pc = panel(series_frame(wasbank_pr, wasbank_prd, wasbank_prr, wasbank_d7, wasbank_d10, wasbank_d14),
           wasbank_dry, "Wasbank", "c", LAYOUT["c"])
pd_ = panel(series_frame(weston_pr, weston_prd, weston_prr, weston_d7, weston_d10, weston_d14),
            weston_dry, "Weston", "d", LAYOUT["d"])

chart = alt.vconcat(
    alt.hconcat(pa, pb, spacing=29),
    alt.hconcat(pc, pd_, spacing=29),
    spacing=24,
).properties(
    padding={"left": 12, "top": 6.5, "right": 2, "bottom": 2},
    background="white",
).configure_view(stroke="#808080", strokeWidth=1)

chart.save("out.html", embed_options={"renderer": "svg", "actions": False})
